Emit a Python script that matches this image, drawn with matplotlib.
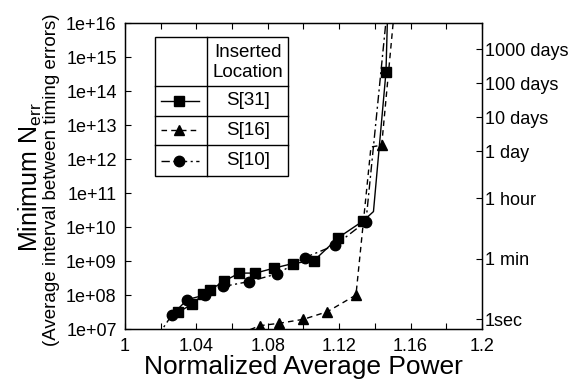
import numpy as np
import matplotlib
matplotlib.use("Agg")
import matplotlib.pyplot as plt
from matplotlib.lines import Line2D
from matplotlib.patches import Rectangle

plt.rcParams['font.family'] = ['Liberation Sans', 'DejaVu Sans']
plt.rcParams['mathtext.fontset'] = 'custom'
plt.rcParams['mathtext.rm'] = 'Liberation Sans'
plt.rcParams['mathtext.it'] = 'Liberation Sans'

# ---- data ----
# S[31] (solid, squares); last point is beyond the top of the plot
s31_x = [1.0299, 1.0374, 1.0439, 1.0476, 1.0555, 1.0640, 1.0731, 1.0835, 1.0940,
         1.1059, 1.1196, 1.1335, 1.1392, 1.1462, 1.1475]
s31_y = [3.2e7, 5.4e7, 1.07e8, 1.43e8, 2.6e8, 4.5e8, 4.5e8, 6.3e8, 8.6e8,
         1.05e9, 5.0e9, 1.55e10, 2.9e10, 3.6e14, 1e17]
s31_marked = [0, 1, 2, 3, 4, 5, 6, 7, 8, 9, 10, 11, 13]

# S[16] (dashed, triangles)
s16_x = [1.0600, 1.0756, 1.0863, 1.1000, 1.1134, 1.1294, 1.1378, 1.1438, 1.1520]
s16_y = [6e6, 1.28e7, 1.5e7, 1.97e7, 3.3e7, 1.02e8, 2.3e12, 2.6e12, 1e17]
s16_marked = [1, 2, 3, 4, 5, 7]

# S[10] (dash-dot, circles)
s10_x = [1.0180, 1.0262, 1.0349, 1.0448, 1.0551, 1.0695, 1.0854, 1.1008, 1.1179,
         1.1350, 1.1470]
s10_y = [6e6, 2.6e7, 7.5e7, 1.02e8, 1.82e8, 2.54e8, 4.3e8, 1.29e9, 3.0e9,
         1.48e10, 3e16]
s10_marked = [1, 2, 3, 4, 5, 6, 7, 8, 9]

y_ticks = [1e7, 1e8, 1e9, 1e10, 1e11, 1e12, 1e13, 1e14, 1e15, 1e16]
y_ticklabels = ['1e+07', '1e+08', '1e+09', '1e+10', '1e+11', '1e+12',
                '1e+13', '1e+14', '1e+15', '1e+16']
x_ticks = [1.0, 1.04, 1.08, 1.12, 1.16, 1.2]
x_ticklabels = ['1', '1.04', '1.08', '1.12', '1.16', '1.2']

clock_hz = 2.0e7
time_seconds = [1, 60, 3600, 86400, 864000, 8640000, 86400000]
time_labels = ['1sec', '1 min', '1 hour', '1 day', '10 days', '100 days', '1000 days']

legend_names = ['S[31]', 'S[16]', 'S[10]']

# ---- figure ----
fig = plt.figure(figsize=(5.86, 3.8), dpi=100)
ax = fig.add_axes([0.2133, 0.1334, 0.6092, 0.8053])

lw = 1.0
ms = 7.5
dashdot = (0, (6, 2.5, 1.5, 2.5))
dashed = (0, (4, 3))
ax.plot(s31_x, s31_y, color='black', linestyle='-', linewidth=lw, marker='s',
        markersize=ms, markevery=s31_marked, clip_on=True)
ax.plot(s16_x, s16_y, color='black', linestyle=dashed, linewidth=lw, marker='^',
        markersize=ms, markevery=s16_marked, clip_on=True)
ax.plot(s10_x, s10_y, color='black', linestyle=dashdot, linewidth=lw,
        marker='o', markersize=ms, markevery=s10_marked, clip_on=True)

ax.set_yscale('log')
ax.set_xlim(1.0, 1.2)
ax.set_ylim(1e7, 1e16)
ax.set_yticks(y_ticks)
ax.set_yticklabels(y_ticklabels)
ax.set_xticks(np.arange(1.0, 1.2001, 0.02))
ax.set_xticklabels([x_ticklabels[i // 2] if i % 2 == 0 else '' for i in range(11)])
ax.tick_params(axis='both', which='major', direction='in', length=4, width=0.8,
               labelsize=13, top=True, right=False, pad=6)
ax.tick_params(axis='y', which='minor', direction='in', length=2, width=0.5,
               right=False)
ax.tick_params(axis='x', which='minor', bottom=False, top=False)
for s in ax.spines.values():
    s.set_linewidth(1.0)

ax2 = ax.twinx()
ax2.set_yscale('log')
ax2.set_ylim(1e7, 1e16)
ax2.set_yticks([t * clock_hz for t in time_seconds])
ax2.set_yticklabels(time_labels)
ax2.yaxis.set_minor_locator(matplotlib.ticker.NullLocator())
ax2.tick_params(axis='y', direction='in', length=4, width=0.8, labelsize=13, pad=2)

ax.set_xlabel('Normalized Average Power', fontsize=19, labelpad=0)
fig.text(0.052, 0.535, 'Minimum N$_{\\mathrm{err}}$', rotation=90, fontsize=18,
         ha='center', va='center')
fig.text(0.088, 0.527, '(Average interval between timing errors)', rotation=90,
         fontsize=13.5, ha='center', va='center')

# ---- table-style legend ----
T = ax.transAxes
x0, xm, x1 = 0.084, 0.2306, 0.457
ys = [0.956, 0.795, 0.698, 0.602, 0.501]
ax.add_patch(Rectangle((x0, ys[-1]), x1 - x0, ys[0] - ys[-1], transform=T,
                       facecolor='white', edgecolor='black', linewidth=1.0, zorder=5))
for yy in ys[1:-1]:
    ax.add_line(Line2D([x0, x1], [yy, yy], transform=T, color='black', lw=1.0, zorder=6))
ax.add_line(Line2D([xm, xm], [ys[0], ys[-1]], transform=T, color='black', lw=1.0, zorder=6))
xc_text = (xm + x1) / 2
ax.text(xc_text, 0.905, 'Inserted', transform=T, ha='center', va='center',
        fontsize=13.5, zorder=7)
ax.text(xc_text, 0.838, 'Location', transform=T, ha='center', va='center',
        fontsize=13.5, zorder=7)
styles = [('-', 's'), (dashed, '^'), (dashdot, 'o')]
for i, (name, (lsty, mk)) in enumerate(zip(legend_names, styles)):
    yc = (ys[i + 1] + ys[i + 2]) / 2
    ax.add_line(Line2D([0.100, 0.208], [yc, yc], transform=T, color='black',
                       linestyle=lsty, lw=lw, zorder=7))
    ax.add_line(Line2D([0.1525], [yc], transform=T, color='black', marker=mk,
                       markersize=ms, zorder=8))
    ax.text(xc_text, yc, name, transform=T, ha='center', va='center',
            fontsize=13.5, zorder=7)

fig.savefig('out.png', dpi=100)
